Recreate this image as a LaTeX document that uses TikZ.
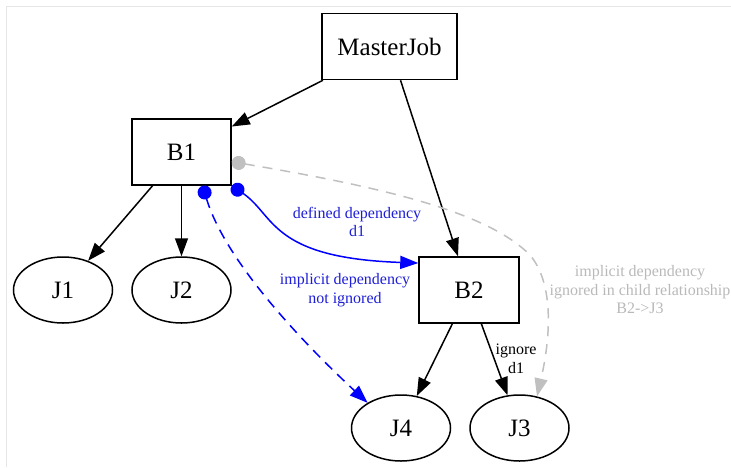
\documentclass[tikz,border=0pt]{standalone}
\usepackage{fontspec}
\setmainfont{Liberation Serif}
\usetikzlibrary{shapes.geometric,arrows.meta}
\definecolor{framegray}{RGB}{230,230,230}
\definecolor{hintgray}{RGB}{192,192,192}
\definecolor{hinttext}{RGB}{185,185,185}
\definecolor{deptext}{RGB}{30,30,215}
\begin{document}
\begin{tikzpicture}[x=1pt, y=-1pt,
            job/.style={draw, line width=1.5pt, inner sep=0pt, font=\fontsize{25}{29}\selectfont},
            batch/.style={job, rectangle, minimum height=66pt},
            leaf/.style={job, ellipse, minimum width=99pt, minimum height=66pt},
            lbl/.style={font=\fontsize{16}{18.5}\selectfont, align=center, inner sep=0pt},
            edge/.style={line width=1.5pt, -{Triangle[length=18pt,width=13pt]}},
            dep/.style={line width=1.5pt, {Circle[length=14pt]}-{Triangle[length=18pt,width=13pt]}}
            ]
            \useasboundingbox (0,0) rectangle (731,467);
            \draw[framegray, line width=1pt] (6.5,467) -- (6.5,6) -- (731,6);

            \node[batch, minimum width=135pt] (mj) at (389.5,46.5) {MasterJob};
            \node[batch, minimum width=99pt] (b1) at (181.5,152) {B1};
            \node[batch, minimum width=100pt] (b2) at (469,290) {B2};
            \node[leaf] (j1) at (63,290) {J1};
            \node[leaf] (j2) at (181.5,290) {J2};
            \node[leaf] (j4) at (401,428) {J4};
            \node[leaf] (j3) at (519.5,428) {J3};

            \node[lbl, text=deptext] (defd1) at (357,222) {defined dependency\\d1};
            \node[lbl, text=deptext] (implnot) at (345,290) {implicit dependency\\not ignored};
            \node[lbl, text=hinttext] (implign) at (640,290) {implicit dependency\\ignored in child relationship\\B2->J3};
            \node[lbl] (ignd1) at (516,359) {ignore\\d1};

            \draw[edge] (mj) -- (b1);
            \draw[edge] (mj) -- (b2);
            \draw[edge] (b1) -- (j1);
            \draw[edge] (b1) -- (j2);
            \draw[edge] (b2) -- (j4);
            \draw[edge] (b2) -- (j3);

            % dependencies
            \draw[dep, blue] (b1.south east) .. controls (275,215) and (270,258) .. (b2.152);
            \draw[dep, blue, dash pattern=on 10pt off 7pt] (b1.-58) .. controls (225,260) and (300,340) .. (j4.143);
            \draw[dep, hintgray, dash pattern=on 10pt off 8pt] (b1.-11) .. controls (400,190) and (490,215) .. (530,255)
                .. controls (555,285) and (550,340) .. (j3.61);

\end{tikzpicture}
\end{document}
